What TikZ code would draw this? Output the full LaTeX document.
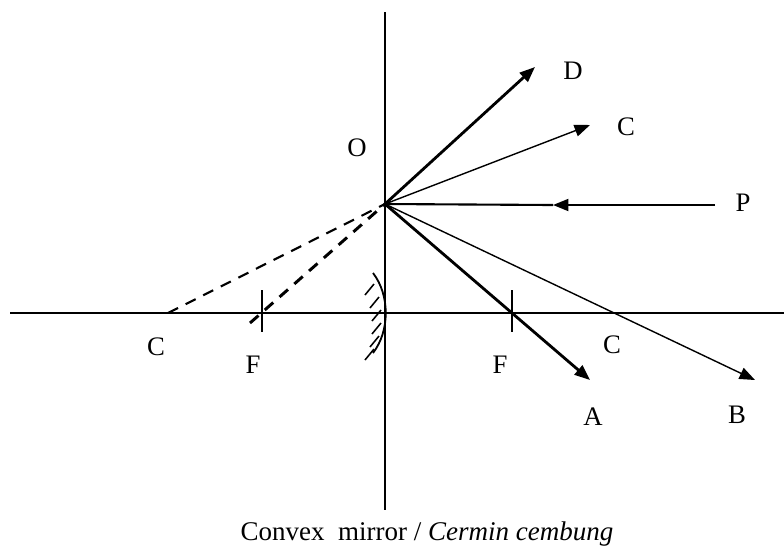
\documentclass[tikz,border=0pt]{standalone}
\usepackage{fontspec}
\setmainfont{Liberation Serif}
\usetikzlibrary{arrows.meta}

\begin{document}
\begin{tikzpicture}[x=0.025cm,y=-0.025cm,
  thinray/.style={line width=1pt,-{Triangle[length=11pt,width=8.5pt]}},
  thickray/.style={line width=2pt,-{Triangle[length=11pt,width=8.5pt]}},
  virt/.style={dash pattern=on 8pt off 6pt},
  lbl/.style={font=\fontsize{19}{22}\selectfont,inner sep=0pt}]
  \useasboundingbox (0,0) rectangle (784,549);
  % mirror line and principal axis
  \coordinate (top) at (385,12);
  \coordinate (bot) at (385,510);
  \coordinate (L) at (10,313);
  \coordinate (R) at (784,313);
  \draw[line width=1.5pt] (top) -- (bot);
  \draw[line width=1.1pt] (L) -- (R);
  % points on the axis
  \coordinate (O) at (385,204);
  \coordinate (Cl) at (168,313);
  \coordinate (Fl) at (262,313);
  \coordinate (Fr) at (512,313);
  \draw[line width=1.1pt] (262,290) -- (262,332);
  \draw[line width=1.1pt] (512,290) -- (512,332);
  % convex mirror with hatching
  \draw[line width=1.3pt] (373,273) .. controls (390,295) and (390,331) .. (373,353);
  \foreach \x/\y in {374/284,379/297,381/310,381/323,379/336,374/349}
    \draw[line width=1.1pt] (\x,\y) -- ++(-9,11);
  % incident ray
  \coordinate (P) at (715,205);
  \coordinate (Pm) at (553,205);
  \draw[line width=1.5pt,-{Triangle[length=11pt,width=8.5pt]}] (P) -- (Pm);
  \draw[line width=1.5pt] (Pm) -- (O);
  % reflected rays
  \coordinate (D) at (535,67);
  \coordinate (Cu) at (590,125);
  \coordinate (A) at (590,380);
  \coordinate (B) at (755,380);
  \draw[thickray] (O) -- (D);
  \draw[thinray] (O) -- (Cu);
  \draw[thickray] (O) -- (A);
  \draw[thinray] (O) -- (B);
  % virtual rays
  \coordinate (Fs) at (250,323);
  \draw[virt,line width=1.5pt] (Cl) -- (O);
  \draw[virt,line width=2.1pt] (Fs) -- (O);
  % labels
  \node[lbl] (labO) at (357,148) {O};
  \node[lbl] (labD) at (573,71) {D};
  \node[lbl] (labCu) at (626,127) {C};
  \node[lbl] (labP) at (743,203) {P};
  \node[lbl] (labCl) at (156,347) {C};
  \node[lbl] (labFl) at (253,365) {F};
  \node[lbl] (labFr) at (500,365) {F};
  \node[lbl] (labCr) at (612,345) {C};
  \node[lbl] (labA) at (593,417) {A};
  \node[lbl] (labB) at (737,415) {B};
  \node[font=\fontsize{19.2}{22}\selectfont,inner sep=0pt,anchor=base] (cap) at (427,540)
    {Convex~ mirror / \textit{Cermin cembung}};
\end{tikzpicture}
\end{document}
